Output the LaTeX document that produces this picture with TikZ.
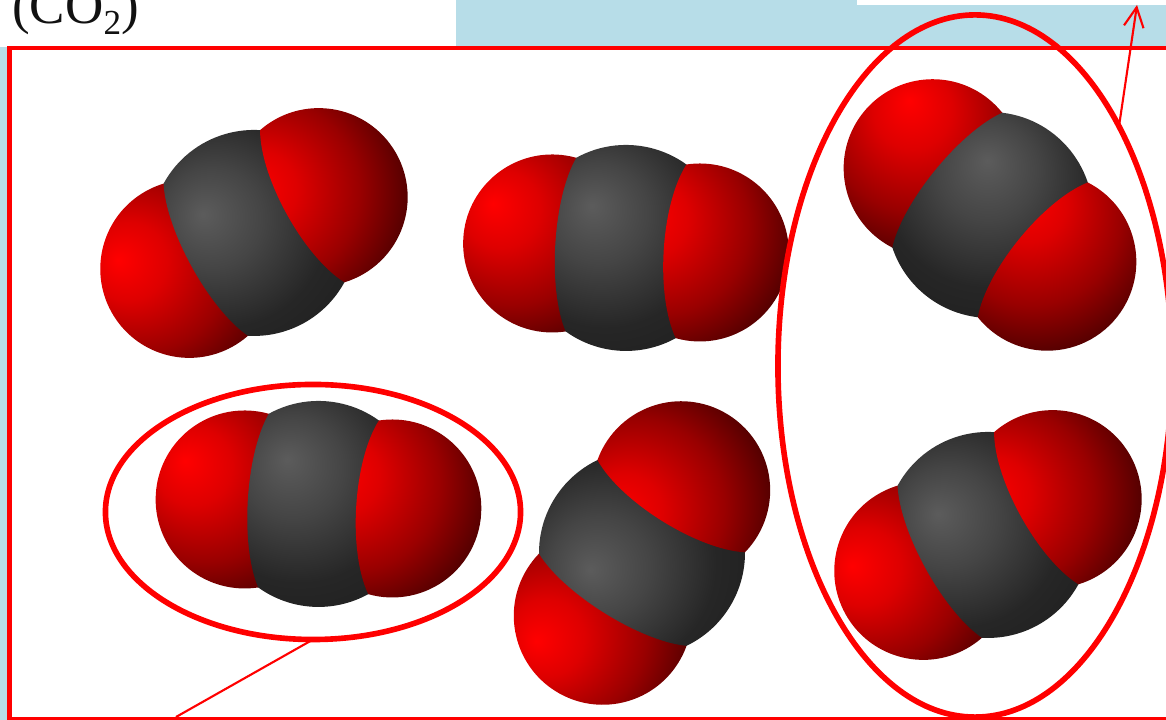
\documentclass[tikz,border=0pt]{standalone}
\usepackage{fontspec}
\usepackage{xcolor}
\usetikzlibrary{arrows.meta,shapes.geometric}
\newfontfamily\SlideSerif{Liberation Serif}
\definecolor{FrameRed}{HTML}{FF0000}
\definecolor{BandBlue}{HTML}{B7DDE8}
\definecolor{CaptionInk}{HTML}{111111}
\pgfdeclareradialshading{oxygenball}{\pgfqpoint{12.85bp}{0bp}}{%
  rgb(0bp)=(1,0,0); rgb(7bp)=(0.87,0,0); rgb(16bp)=(0.6,0,0);
  rgb(23bp)=(0.33,0,0); rgb(25bp)=(0.31,0,0); rgb(50bp)=(0.31,0,0)}
\pgfdeclareradialshading{carbonball}{\pgfqpoint{9.8bp}{0bp}}{%
  rgb(0bp)=(0.36,0.36,0.36); rgb(9bp)=(0.27,0.27,0.27);
  rgb(19bp)=(0.15,0.15,0.15); rgb(25bp)=(0.13,0.13,0.13); rgb(50bp)=(0.13,0.13,0.13)}
\tikzset{
  oxygen/.style={shading=oxygenball,shading angle=#1},
  carbon/.style={shading=carbonball,shading angle=#1},
  frame line/.style={draw=FrameRed,line width=3.4pt},
  ring/.style={ellipse,draw=FrameRed,line width=4pt,inner sep=0pt,outer sep=0pt},
  callout/.style={draw=FrameRed,line width=1.5pt}
}

\begin{document}
\begin{tikzpicture}[x=0.025cm,y=0.025cm]
  % one unit is one pixel of the 1166 x 720 slide, y counted from the bottom
  \path[use as bounding box] (0,0) rectangle (1166,720);
  \clip (0,0) rectangle (1166,720);

  \fill[BandBlue] (456,673) rectangle (1166,720);
  \fill[white] (857,715) rectangle (1166,720);
  \fill[BandBlue] (0,0) rectangle (7,673);
  \node[anchor=base west,inner sep=0pt,text=CaptionInk,font=\SlideSerif\fontsize{37.7}{40}\selectfont]
    (caption) at (12,696.5) {(CO\raisebox{-7.5pt}{\fontsize{25}{25}\selectfont 2})};
  \draw[frame line] (9.5,672) rectangle (1190,1);

  % x, y of the carbon, axis angle, light angle on oxygen, light angle on carbon
  \newcommand{\cotwo}[5]{%
    \begin{scope}[shift={(#1,#2)}]
      \begin{scope}
        \clip[rotate=#3] (-74,0) circle (89);
        \shade[oxygen=#4] (#3:-74) circle (140);
      \end{scope}
      \begin{scope}
        \clip[rotate=#3] (-55.16,87) arc[start angle=122.4,end angle=-122.4,radius=103]
          .. controls (-76,-45) and (-76,45) .. cycle;
        \shade[carbon=#5] (0,0) circle (140);
      \end{scope}
      \begin{scope}
        \clip[rotate=#3] (55.16,87) arc[start angle=102.2,end angle=-102.2,radius=89]
          .. controls (32,-45) and (32,45) .. cycle;
        \shade[oxygen=#4] (#3:74) circle (140);
      \end{scope}
    \end{scope}%
  }

  \cotwo{254}{487}{29}{173}{160}
  \cotwo{626}{472}{-3.5}{146}{129}
  \cotwo{990}{505}{-39.2}{109}{93}
  \cotwo{318.5}{216}{-3.5}{147}{125}
  \cotwo{642}{167}{58}{201}{198}
  \cotwo{988}{185}{29}{176}{157}

  \node[ring,minimum width=10.375cm,minimum height=6.375cm] (ringleft) at (313,208) {};
  \node[ring,minimum width=9.85cm,minimum height=17.55cm] (ringright) at (975,354) {};

  \coordinate (framefoot) at (176,3);
  \coordinate (bandtip) at (1137,715);
  \draw[callout] (ringleft.south) -- (framefoot);
  \draw[callout,-{Straight Barb[length=14pt,width=14pt]}] (ringright.59.6) -- (bandtip);
\end{tikzpicture}
\end{document}
